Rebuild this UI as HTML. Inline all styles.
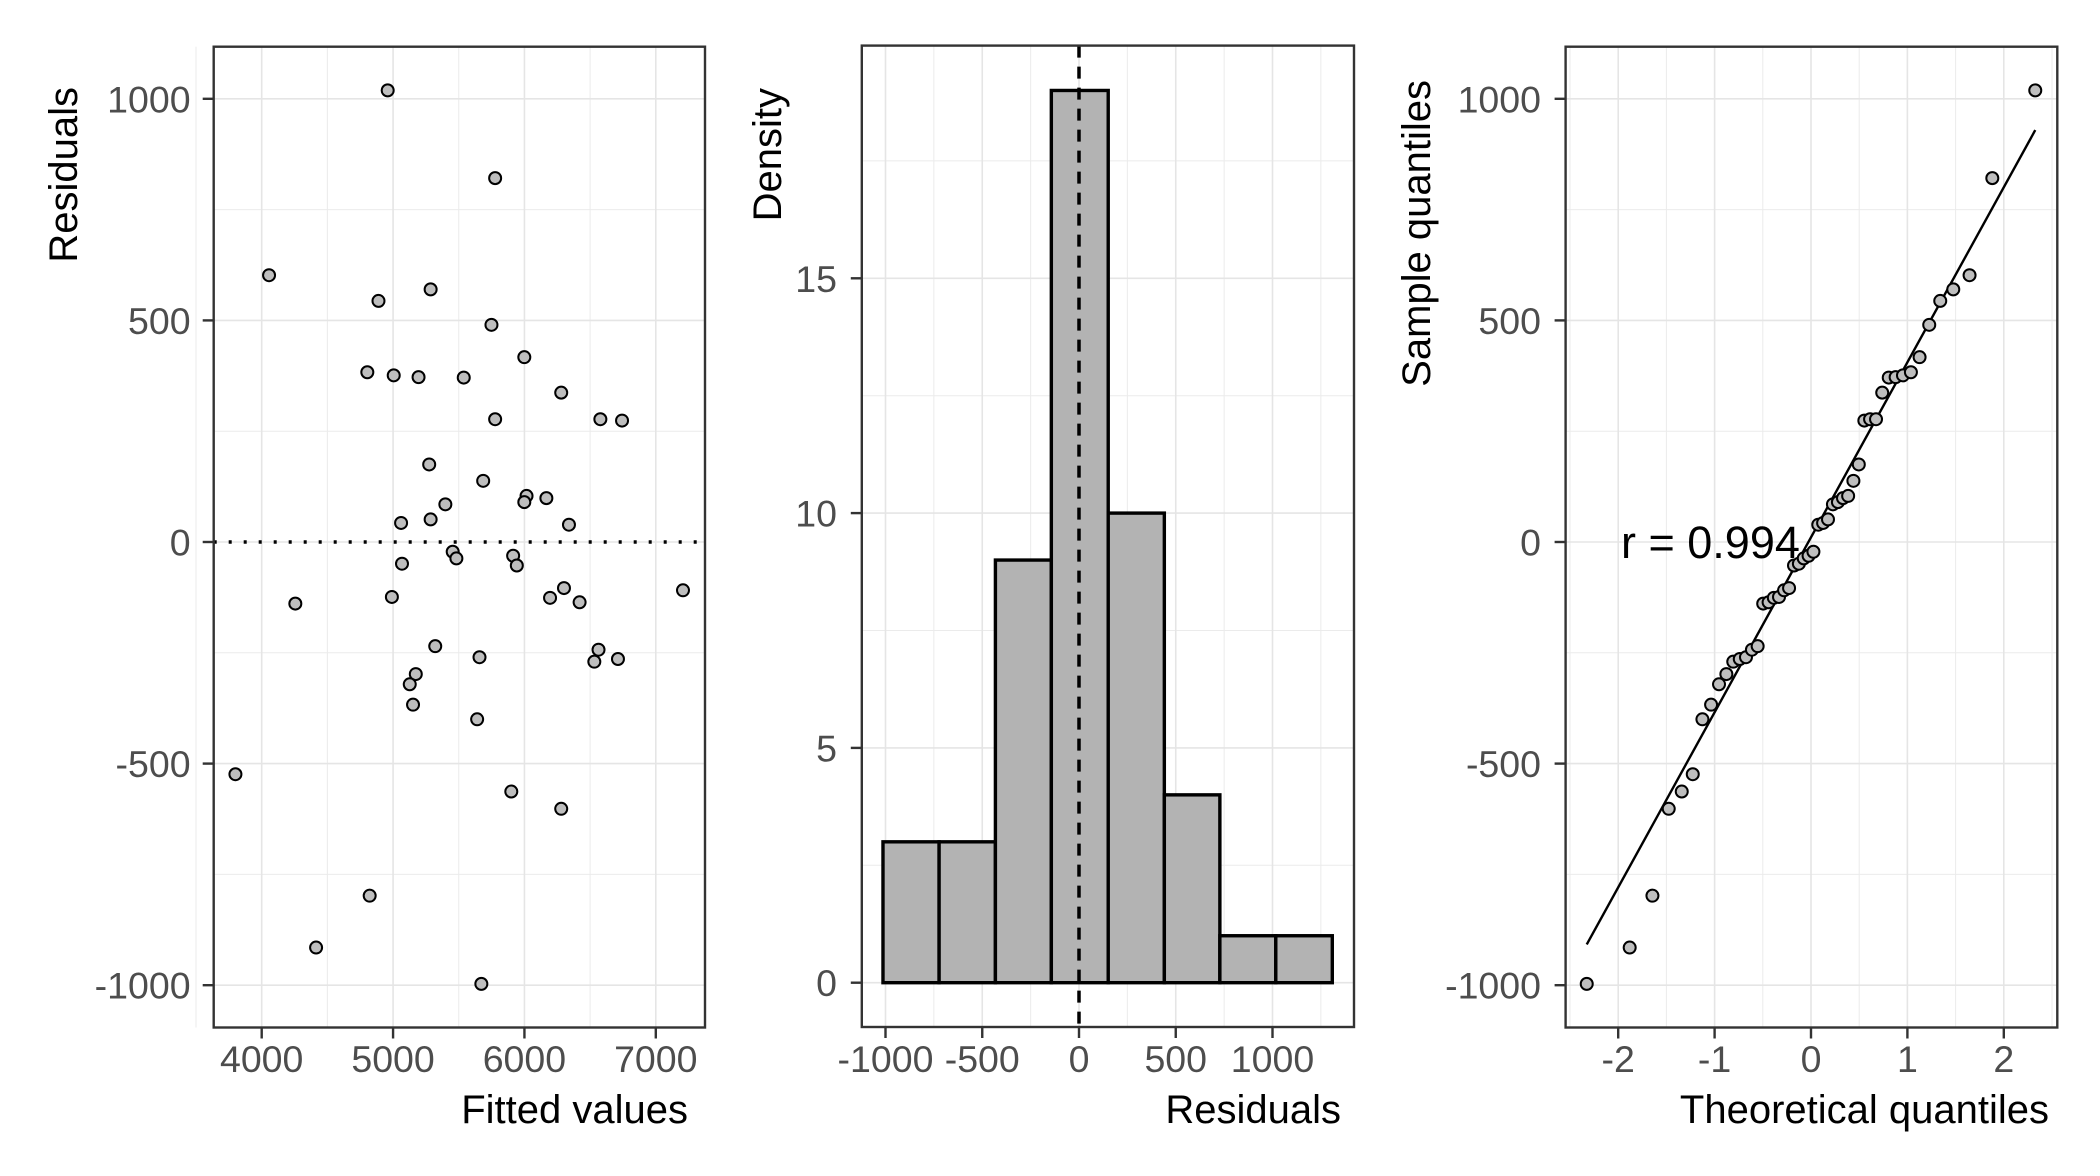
<!DOCTYPE html>
<html><head><meta charset="utf-8"><style>
html,body{margin:0;padding:0;background:#fff}
svg{display:block;font-family:"Liberation Sans",Arial,sans-serif}
</style></head><body>
<svg id="fig" width="2100" height="1176" viewBox="0 0 2100 1176" xmlns="http://www.w3.org/2000/svg"></svg>
<script>
// ---- data ----
const fittedValues = [4959,5777,4056,5286,4889,5749,5999,4804,5005,5194,5538,6280,5777,6578,6743,5275,5686,5398,6016,5999,6167,5061,5286,6339,5454,5482,5914,5942,5068,4991,4256,6301,6195,6420,7207,5321,6564,5658,6532,6712,5173,5127,5152,5640,3800,5900,6280,4822,4414,5672];
const residualValues = [1019,821,602,570,544,490,417,383,376,372,371,337,277,277,274,175,138,85,104,90,99,43,51,39,-22,-37,-31,-53,-49,-124,-139,-104,-126,-136,-109,-235,-243,-260,-270,-264,-298,-321,-367,-400,-524,-563,-602,-798,-915,-997];
const histBinEdges = [-1013,-723,-432,-143,151,441,728,1017,1309];
const histCounts = [3,3,9,19,10,4,1,1];
const fittedTicks = [4000,5000,6000,7000];
const residTicks = [-1000,-500,0,500,1000];
const histXTicks = [-1000,-500,0,500,1000];
const histYTicks = [0,5,10,15];
const qqXTicks = [-2,-1,0,1,2];
const corrLabel = "r = 0.994";

const NS="http://www.w3.org/2000/svg";
const svg=document.getElementById('fig');
function mk(tag,attrs,parent){const e=document.createElementNS(NS,tag);for(const k in attrs)e.setAttribute(k,attrs[k]);(parent||svg).appendChild(e);return e;}
function lin(d0,d1,r0,r1){return v=>r0+(v-d0)*(r1-r0)/(d1-d0);}

function panel(name,L,R,T,B,xs,ys,xt,yt,xMinor,yMinor){
  const g=mk('g',{});
  
  
  const grid=mk('g',{},g);
  
  
  xMinor.forEach(v=>mk('line',{x1:xs(v),x2:xs(v),y1:T,y2:B,stroke:'#ebebeb','stroke-width':1},grid));
  yMinor.forEach(v=>mk('line',{x1:L,x2:R,y1:ys(v),y2:ys(v),stroke:'#ebebeb','stroke-width':1},grid));
  xt.forEach(v=>mk('line',{x1:xs(v),x2:xs(v),y1:T,y2:B,stroke:'#e5e5e5','stroke-width':1.6},grid));
  yt.forEach(v=>mk('line',{x1:L,x2:R,y1:ys(v),y2:ys(v),stroke:'#e5e5e5','stroke-width':1.6},grid));
  return g;
}
function axes(g,name,L,R,T,B,xs,ys,xt,yt,xlab,ylabRight){
  const ax=mk('g',{},g);
  
  
  xt.forEach(v=>{
    mk('line',{x1:xs(v),x2:xs(v),y1:B,y2:B+11,stroke:'#333','stroke-width':2.4},ax);
    const t=mk('text',{x:xs(v),y:1072,'text-anchor':'middle','font-size':37.5,fill:'#4d4d4d'},ax);
    
    
    t.textContent=xlab(v);
  });
  yt.forEach(v=>{
    mk('line',{x1:L-11,x2:L,y1:ys(v),y2:ys(v),stroke:'#333','stroke-width':2.4},ax);
    const t=mk('text',{x:ylabRight,y:ys(v)+13.5,'text-anchor':'end','font-size':37.5,fill:'#4d4d4d'},ax);
    
    
    t.textContent=String(v);
  });
}
function border(g,L,R,T,B){
  const r=mk('rect',{x:L,y:T,width:R-L,height:B-T,fill:'none',stroke:'#333','stroke-width':2.4},g);
  
  
}
function title(txt,x,y,rot,name){
  const t=mk('text',{x:x,y:y,'text-anchor':'end','font-size':40,fill:'#000',transform:rot?`rotate(-90 ${x} ${y})`:''});
  
  
  t.textContent=txt;
}

// ---- panel 1: residuals vs fitted ----
{
  const L=213.7,R=705,T=46.7,B=1027.5;
  const xs=lin(4000,7000,261.7,655.8), ys=lin(-1000,1000,985.2,98.8);
  const g=panel('residuals-vs-fitted-panel',L,R,T,B,xs,ys,fittedTicks,residTicks,[3500,4500,5500,6500],[-750,-250,250,750]);
  const zl=mk('line',{x1:L,x2:R,y1:ys(0),y2:ys(0),stroke:'#000','stroke-width':3.5,'stroke-dasharray':'3 12'},g);
  
  
  fittedValues.forEach((fv,i)=>{
    const c=mk('circle',{cx:xs(fv),cy:ys(residualValues[i]),r:6,fill:'#bebebe',stroke:'#000','stroke-width':2},g);
    
    
  });
  border(g,L,R,T,B);
  axes(g,'residuals-vs-fitted',L,R,T,B,xs,ys,fittedTicks,residTicks,v=>String(v),190.6);
  title('Fitted values',688,1123,false,'x-axis-title-fitted');
  title('Residuals',77,87,true,'y-axis-title-residuals');
}

// ---- panel 2: histogram ----
{
  const L=861.8,R=1354,T=45.6,B=1027;
  const xs=lin(0,1000,1079,1272.5), ys=lin(0,5,982.7,747.9);
  const g=panel('histogram-panel',L,R,T,B,xs,ys,histXTicks,histYTicks,[-750,-250,250,750,1250],[2.5,7.5,12.5,17.5]);
  histCounts.forEach((c,i)=>{
    const x0=xs(histBinEdges[i]),x1=xs(histBinEdges[i+1]);
    const r=mk('rect',{x:x0,y:ys(c),width:x1-x0,height:ys(0)-ys(c),fill:'#b3b3b3',stroke:'#000','stroke-width':3.4},g);
    
    
  });
  const vl=mk('line',{x1:xs(0),x2:xs(0),y1:T,y2:B,stroke:'#000','stroke-width':3.5,'stroke-dasharray':'12 9'},g);
  
  
  border(g,L,R,T,B);
  axes(g,'histogram',L,R,T,B,xs,ys,histXTicks,histYTicks,v=>String(v),837);
  title('Residuals',1341,1123,false,'x-axis-title-residuals');
  title('Density',781,88,true,'y-axis-title-density');
}

// ---- panel 3: QQ ----
function qnorm(p){
  const a=[-39.6968302866538,220.946098424521,-275.928510446969,138.357751867269,-30.6647980661472,2.50662827745924];
  const b=[-54.4760987982241,161.585836858041,-155.698979859887,66.8013118877197,-13.2806815528857];
  const c=[-0.00778489400243029,-0.322396458041136,-2.40075827716184,-2.54973253934373,4.37466414146497,2.93816398269878];
  const d=[0.00778469570904146,0.32246712907004,2.445134137143,3.75440866190742];
  const pl=0.02425;let q,r;
  if(p<pl){q=Math.sqrt(-2*Math.log(p));return (((((c[0]*q+c[1])*q+c[2])*q+c[3])*q+c[4])*q+c[5])/((((d[0]*q+d[1])*q+d[2])*q+d[3])*q+1);}
  if(p>1-pl){q=Math.sqrt(-2*Math.log(1-p));return -(((((c[0]*q+c[1])*q+c[2])*q+c[3])*q+c[4])*q+c[5])/((((d[0]*q+d[1])*q+d[2])*q+d[3])*q+1);}
  q=p-0.5;r=q*q;return (((((a[0]*r+a[1])*r+a[2])*r+a[3])*r+a[4])*r+a[5])*q/(((((b[0]*r+b[1])*r+b[2])*r+b[3])*r+b[4])*r+1);
}
function quant7(s,p){const h=(s.length-1)*p,lo=Math.floor(h);return s[lo]+(h-lo)*(s[Math.min(lo+1,s.length-1)]-s[lo]);}
{
  const L=1565.6,R=2057.3,T=46.7,B=1027.5;
  const xs=lin(0,1,1811,1907.4), ys=lin(-1000,1000,985.2,98.8);
  const g=panel('qq-plot-panel',L,R,T,B,xs,ys,qqXTicks,residTicks,[-2.5,-1.5,-0.5,0.5,1.5,2.5],[-750,-250,250,750]);
  const sorted=residualValues.slice().sort((a,b)=>a-b);
  const n=sorted.length;
  const theo=sorted.map((_,i)=>qnorm((i+0.5)/n));
  const q1=quant7(sorted,0.25),q3=quant7(sorted,0.75);
  const slope=(q3-q1)/(qnorm(0.75)-qnorm(0.25)), icpt=q1-slope*qnorm(0.25);
  const t0=theo[0],t1=theo[n-1];
  const ln=mk('line',{x1:xs(t0),y1:ys(icpt+slope*t0),x2:xs(t1),y2:ys(icpt+slope*t1),stroke:'#000','stroke-width':2.4},g);
  
  
  sorted.forEach((v,i)=>{
    const c=mk('circle',{cx:xs(theo[i]),cy:ys(v),r:6,fill:'#bebebe',stroke:'#000','stroke-width':2},g);
    
    
  });
  const rt=mk('text',{x:1621,y:558,'font-size':45,fill:'#000'},g);
  
  
  rt.textContent=corrLabel;
  border(g,L,R,T,B);
  axes(g,'qq',L,R,T,B,xs,ys,qqXTicks,residTicks,v=>String(v),1541);
  title('Theoretical quantiles',2049,1123,false,'x-axis-title-theoretical');
  title('Sample quantiles',1430,80,true,'y-axis-title-sample');
}
</script>
</body></html>
